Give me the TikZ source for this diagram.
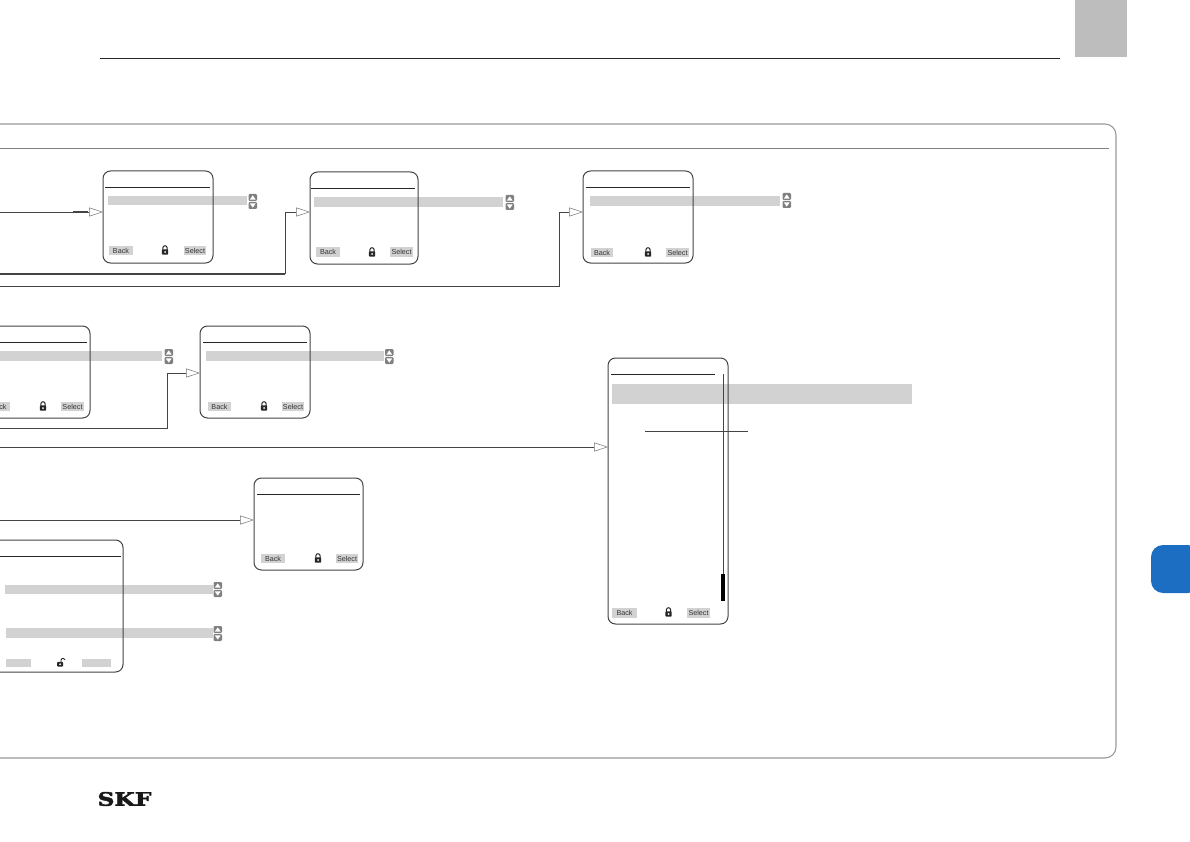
\documentclass[tikz,border=0pt]{standalone}
\usepackage{fontspec}
\setmainfont{Liberation Sans}
\newfontfamily\logofont[FakeBold=2.5]{DejaVu Serif}
\usetikzlibrary{arrows.meta}
\definecolor{barg}{HTML}{D2D2D2}
\definecolor{inkg}{HTML}{444444}
\definecolor{tabg}{HTML}{BDBDBD}
\definecolor{tabb}{HTML}{1B6EC2}
\tikzset{
  screenbox/.style={draw=inkg,line width=1pt,rounded corners=7.5pt,inner sep=0pt,outer sep=0pt},
  headline/.style={draw=black!85,line width=.9pt},
  bar/.style={fill=barg,draw=none},
  conn/.style={draw=inkg,line width=.8pt,-{Triangle[open,length=14pt,width=9pt,line width=.5pt,color=black!55]}},
  softkey/.style={fill=barg,inner sep=0pt,outer sep=0pt,text=black!80,font=\fontsize{7.2}{8}\selectfont,minimum height=9.5pt},
  spinbtn/.style={fill=black!50,draw=none,rounded corners=1.2pt},
  spintri/.style={fill=white,draw=none}
}
% \scr{name}{x0}{y0}{x1}{y1}
\newcommand{\scr}[5]{\node[screenbox,minimum width={(#4-#2)*1pt},minimum height={(#5-#3)*1pt}] (#1) at ({(#2+#4)/2},{(#3+#5)/2}) {};}
% \spin{x}{y of top}
\newcommand{\spin}[2]{%
  \fill[spinbtn] (#1,#2) rectangle ++(8.5,7);
  \fill[spinbtn] (#1,#2+8) rectangle ++(8.5,7);
  \fill[spintri] (#1+4.25,#2+1.4) -- (#1+7.2,#2+5.6) -- (#1+1.3,#2+5.6) -- cycle;
  \fill[spintri] (#1+4.25,#2+13.6) -- (#1+7.2,#2+9.4) -- (#1+1.3,#2+9.4) -- cycle;
}
% \lock{cx}{cy}
\newcommand{\lock}[2]{%
  \draw[black!85,line width=1pt] (#1-2.1,#2) -- (#1-2.1,#2-2.2) arc[start angle=180,end angle=360,radius=2.1] -- (#1+2.1,#2);
  \fill[black!85,rounded corners=.8pt] (#1-3.2,#2-.6) rectangle (#1+3.2,#2+4.6);
  \fill[white] (#1,#2+2) circle (1pt);
}
\newcommand{\openlock}[2]{%
  \draw[black!85,line width=.9pt] (#1,#2) -- (#1,#2-1.6) arc[start angle=180,end angle=340,radius=2.1];
  \fill[black!85,rounded corners=.8pt] (#1-3.8,#2-.2) rectangle (#1+2,#2+4.6);
  \fill[white] (#1-.9,#2+2.2) circle (1pt);
}
\begin{document}
\begin{tikzpicture}[x=1pt,y=-1pt]
\useasboundingbox (0,0) rectangle (1190,842);
% page furniture
\fill[tabg] (1075,0) rectangle (1127,57);
\draw[black!85,line width=.9pt] (100,58) -- (1060,58);
\draw[black!40,line width=1.1pt,rounded corners=11pt] (-20,124) -- (1116,124) -- (1116,758) -- (-20,758);
\draw[black!50,line width=.7pt] (-20,148) -- (1109,148);
\fill[tabb,rounded corners=12pt] (1200,545) -- (1151,545) -- (1151,593) -- (1200,593) -- cycle;
\node[inner sep=0pt,font=\logofont\bfseries\fontsize{18}{20}\selectfont,text=black!90,xscale=1.3,yscale=1.03] (logo) at (124.5,799) {SKF};

% highlight bars (behind the screens)
\fill[bar] (108,196) rectangle (247,205);
\fill[bar] (314,197) rectangle (503,207);
\fill[bar] (590,196) rectangle (780,206);
\fill[bar] (-5,351) rectangle (162,361);
\fill[bar] (206,351) rectangle (384,361);
\fill[bar] (5,585) rectangle (213,594);
\fill[bar] (6,628) rectangle (213,638);
\fill[bar] (612,384) rectangle (912,404);

% screens
\scr{A}{103}{171}{213}{263}
\scr{B}{310}{172}{418}{264}
\scr{C}{583}{171}{693}{263}
\scr{D}{-20}{326}{90}{418}
\scr{E}{200}{326}{310}{418}
\scr{F}{254}{478}{363}{570}
\scr{G}{-20}{540}{123}{672}
\scr{H}{608}{358}{728}{624}

% header rules
\draw[headline] (105,187) -- (210,187);
\draw[headline] (311,188) -- (415,188);
\draw[headline] (586,187) -- (690,187);
\draw[headline] (-20,342) -- (87,342);
\draw[headline] (203,342) -- (307,342);
\draw[headline] (257,494) -- (360,494);
\draw[headline] (-20,556) -- (121,556);
\draw[headline] (611,374) -- (715,374);

% long list screen details
\draw[inkg,line width=.8pt] (723,374) -- (723,574);
\fill[black] (721,574) rectangle (725,601);
\draw[inkg,line width=.8pt] (645,431) -- (748,431);

% spin buttons
\spin{248.5}{194}
\spin{505.5}{195}
\spin{782.5}{193}
\spin{164.5}{349}
\spin{385}{349}
\spin{213.5}{582}
\spin{213.5}{626}

% soft keys
\node[softkey,minimum width=24pt] (Aback) at (121,250.5) {Back};
\node[softkey,minimum width=22pt] (Aselect) at (195,250.5) {Select};
\node[softkey,minimum width=24pt] (Bback) at (328,252) {Back};
\node[softkey,minimum width=23pt] (Bselect) at (401.5,252) {Select};
\node[softkey,minimum width=22pt] (Cback) at (602,252.5) {Back};
\node[softkey,minimum width=23pt] (Cselect) at (677.5,252.5) {Select};
\node[softkey,minimum width=23pt] (Dback) at (-1.5,406.5) {Back};
\node[softkey,minimum width=23pt] (Dselect) at (72.5,406.5) {Select};
\node[softkey,minimum width=23pt] (Eback) at (219.5,406.5) {Back};
\node[softkey,minimum width=22pt] (Eselect) at (293,406.5) {Select};
\node[softkey,minimum width=24pt] (Fback) at (273,558.5) {Back};
\node[softkey,minimum width=22pt] (Fselect) at (347,558.5) {Select};
\node[softkey,minimum width=25pt,minimum height=8pt] (Gleft) at (18.5,663) {};
\node[softkey,minimum width=29pt,minimum height=8pt] (Gright) at (96.5,663) {};
\node[softkey,minimum width=25pt] (Hback) at (624.5,613) {Back};
\node[softkey,minimum width=23pt] (Hselect) at (698.5,613) {Select};

% locks
\lock{165}{250}
\lock{372}{252}
\lock{648}{252}
\lock{43}{406}
\lock{264}{406}
\lock{318}{558}
\lock{668.5}{612}
\openlock{61}{662}

% connectors
\coordinate (a0) at (-5,212);
\coordinate (a1) at (73,212);
\coordinate (a2) at (88,212);
\coordinate (b0) at (-5,274);
\coordinate (bj) at (285,212);
\coordinate (bk) at (285,274);
\coordinate (c0) at (-5,286);
\coordinate (cj) at (559,212);
\coordinate (d0) at (-5,428);
\coordinate (dj) at (167,373);
\coordinate (h0) at (-5,447);
\coordinate (f0) at (-5,520);
\draw[conn] (a0) -- (A.west |- a0);
\draw[inkg,line width=1.2pt] (a1) -- (a2);
\draw[conn] (bk) -- (bj) -- (B.west |- bj);
\draw[inkg,line width=1.2pt] (b0) -- (bk);
\draw[conn] (c0) -| (cj) -- (C.west |- cj);
\draw[conn] (d0) -| (dj) -- (E.west |- dj);
\draw[conn] (h0) -- (H.west |- h0);
\draw[conn] (f0) -- (F.west |- f0);
\end{tikzpicture}
\end{document}
